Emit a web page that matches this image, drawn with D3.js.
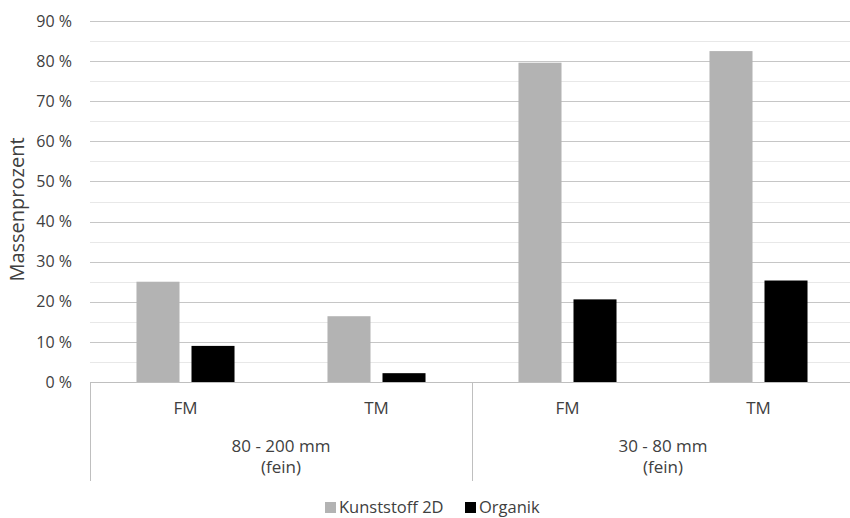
<!DOCTYPE html>
<html>
<head>
<meta charset="utf-8">
<script src="https://cdn.jsdelivr.net/npm/d3@7"></script>
<style>
  html, body { margin: 0; padding: 0; background: #fff; }
  svg { display: block; font-family: "Open Sans", "Noto Sans", sans-serif; }
</style>
</head>
<body>
<svg id="chart" width="850" height="518"></svg>
<script>
// Data
const groups = ["80 - 200 mm|(fein)", "30 - 80 mm|(fein)"];
const subCategories = ["FM", "TM", "FM", "TM"];
const groupOfCategory = [0, 0, 1, 1];
const seriesNames = ["Kunststoff 2D", "Organik"];
const kunststoff2D = [25.0, 16.4, 79.6, 82.5];
const organik = [9.0, 2.2, 20.6, 25.3];
const yTicks = [0, 10, 20, 30, 40, 50, 60, 70, 80, 90];
const yMinorTicks = [5, 15, 25, 35, 45, 55, 65, 75, 85];
const seriesColors = ["#b3b3b3", "#000000"];

const svg = d3.select("#chart");
const margin = { left: 90, right: -4, top: 21, bottom: 136 };
const W = 850, H = 518;
const plotRight = W - margin.right;
const plotBottom = H - margin.bottom;

const x = d3.scaleBand()
  .domain(d3.range(subCategories.length))
  .range([margin.left, plotRight])
  .paddingInner(0).paddingOuter(0);

const xSub = d3.scaleBand()
  .domain(d3.range(seriesNames.length))
  .range([0, x.bandwidth()])
  .paddingInner(0.218)
  .paddingOuter(0.845);

const y = d3.scaleLinear().domain([0, 90]).range([plotBottom, margin.top]);

const textColor = "#404040";

// Minor gridlines
svg.append("g").selectAll("line").data(yMinorTicks).join("line")
  .attr("x1", margin.left).attr("x2", plotRight)
  .attr("y1", d => Math.round(y(d)) + 0.5).attr("y2", d => Math.round(y(d)) + 0.5)
  .attr("stroke", "#e8e8e8").attr("stroke-width", 1);

// Major gridlines
svg.append("g").selectAll("line").data(yTicks.filter(d => d > 0)).join("line")
  .attr("x1", margin.left).attr("x2", plotRight)
  .attr("y1", d => Math.round(y(d)) + 0.5).attr("y2", d => Math.round(y(d)) + 0.5)
  .attr("stroke", "#c6c6c6").attr("stroke-width", 1);

// Y axis labels
const yAxis = d3.axisLeft(y).tickValues(yTicks).tickSize(0).tickPadding(0)
  .tickFormat(d => d + " %");
const yg = svg.append("g").attr("transform", `translate(${margin.left - 18},0)`).call(yAxis);
yg.select(".domain").remove();
yg.selectAll("text").attr("fill", textColor).style("font-size", "16px")
  .style("font-family", "'Open Sans', 'Noto Sans', sans-serif");

// Y axis title
svg.append("text")
  .attr("transform", `translate(24,${(margin.top + plotBottom) / 2 + 8}) rotate(-90)`)
  .attr("text-anchor", "middle")
  .attr("fill", textColor)
  .style("font-size", "20px")
  .text("Massenprozent");

// Bars
const series = [kunststoff2D, organik];
series.forEach((vals, si) => {
  svg.append("g").selectAll("rect").data(vals).join("rect")
    .attr("x", (d, i) => x(i) + xSub(si))
    .attr("width", xSub.bandwidth())
    .attr("y", d => y(d))
    .attr("height", d => y(0) - y(d))
    .attr("fill", seriesColors[si]);
});

// Category axis
const axisColor = "#bfbfbf";
const axisG = svg.append("g");
axisG.append("line")
  .attr("x1", margin.left).attr("x2", plotRight)
  .attr("y1", Math.round(y(0)) + 0.5).attr("y2", Math.round(y(0)) + 0.5)
  .attr("stroke", axisColor).attr("stroke-width", 1);

// Group dividers
const groupEdges = [0, 2, 4];
axisG.selectAll("line.div").data(groupEdges).join("line")
  .attr("class", "div")
  .attr("x1", d => Math.round(d < 4 ? x(d) : plotRight) + 0.5)
  .attr("x2", d => Math.round(d < 4 ? x(d) : plotRight) + 0.5)
  .attr("y1", Math.round(y(0)))
  .attr("y2", 481)
  .attr("stroke", axisColor).attr("stroke-width", 1);

// Sub-category labels
svg.append("g").selectAll("text").data(subCategories).join("text")
  .attr("x", (d, i) => x(i) + x.bandwidth() / 2)
  .attr("y", 414)
  .attr("text-anchor", "middle")
  .attr("fill", textColor)
  .style("font-size", "17px")
  .text(d => d);

// Group labels
groups.forEach((g, gi) => {
  const idx = groupOfCategory.map((v, i) => v === gi ? i : -1).filter(i => i >= 0);
  const cx = (x(idx[0]) + x(idx[idx.length - 1]) + x.bandwidth()) / 2;
  const lines = g.split("|");
  lines.forEach((ln, li) => {
    svg.append("text")
      .attr("x", cx)
      .attr("y", 452 + li * 21)
      .attr("text-anchor", "middle")
      .attr("fill", textColor)
      .style("font-size", "17px")
      .text(ln);
  });
});

// Legend
const legendItems = [
  { name: seriesNames[0], color: seriesColors[0], x: 325 },
  { name: seriesNames[1], color: seriesColors[1], x: 465 }
];
const lg = svg.append("g");
legendItems.forEach(it => {
  lg.append("rect").attr("x", it.x).attr("y", 502).attr("width", 11).attr("height", 11)
    .attr("fill", it.color);
  lg.append("text").attr("x", it.x + 14).attr("y", 513)
    .attr("fill", textColor).style("font-size", "16.5px").text(it.name);
});
</script>
</body>
</html>
